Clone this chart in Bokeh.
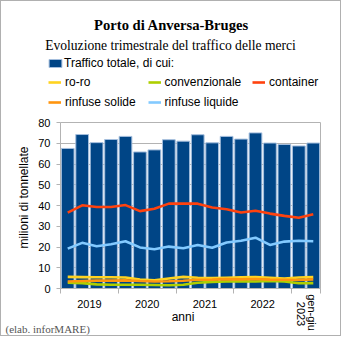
import math
from bokeh.plotting import figure
from bokeh.models import (ColumnDataSource, Range1d, FixedTicker, Legend, LegendItem,
                          LinearAxis, Label, Grid)
from bokeh.embed import file_html
from bokeh.resources import INLINE

# ---- data (milioni di tonnellate, trimestri 2019 Q1 .. 2023 Q2) ----
quarters = ["2019-1", "2019-2", "2019-3", "2019-4",
            "2020-1", "2020-2", "2020-3", "2020-4",
            "2021-1", "2021-2", "2021-3", "2021-4",
            "2022-1", "2022-2", "2022-3", "2022-4",
            "2023-1", "2023-2"]
totale = [67.5, 74.2, 70.3, 71.8, 73.3, 65.8, 66.8, 71.7, 71.0,
          74.1, 70.2, 73.3, 72.0, 75.0, 70.1, 69.4, 68.7, 70.1]
roro = [5.6, 5.5, 5.4, 5.4, 5.3, 4.3, 4.0, 4.8, 5.6,
        5.2, 5.0, 5.2, 5.4, 5.5, 5.2, 4.8, 5.3, 5.5]
convenzionale = [2.8, 2.6, 2.0, 1.8, 1.8, 1.8, 1.7, 1.6, 1.8,
                 2.8, 3.2, 3.4, 3.5, 3.4, 3.6, 3.4, 2.5, 2.6]
container = [36.6, 40.1, 39.3, 39.3, 40.2, 37.3, 38.4, 40.9, 41.0,
             40.9, 39.0, 38.2, 36.6, 37.5, 36.1, 35.0, 34.1, 35.8]
rinfuse_solide = [3.4, 3.6, 3.8, 3.8, 3.9, 3.6, 3.4, 3.5, 3.7,
                  4.2, 4.3, 4.5, 4.4, 4.6, 4.3, 4.2, 4.1, 4.4]
rinfuse_liquide = [19.2, 22.0, 20.4, 21.3, 22.8, 19.8, 18.9, 20.2, 19.4,
                   21.0, 19.6, 22.2, 23.0, 24.5, 21.0, 22.6, 23.0, 22.8]
y_ticks = [0, 10, 20, 30, 40, 50, 60, 70, 80]
year_ticks = [2, 6, 10, 14]
year_labels = ["2019", "2020", "2021", "2022"]
year_bounds = [0, 4, 8, 12, 16, 18]
last_tick = 17
last_label_lines = ["gen-giu", "2023"]

series_names = ["Traffico totale, di cui:", "ro-ro", "convenzionale", "container",
                "rinfuse solide", "rinfuse liquide"]
series_colors = ["#004586", "#ffd320", "#aecf00", "#ff420e", "#ff950e", "#83caff"]

GRAY = "#b3b3b3"
SANS = "Liberation Sans"
SERIF = "Liberation Serif"
LW = 2.6

# plot area in page pixels: x 60..320 (18 quarters), y 288..122 (0..80)
N_Q = len(quarters)
XS = 260 / N_Q
YS = 166 / 80


def dx(px):
    return (px - 60) / XS


def dy(py):
    return (288 - py) / YS


W, H = 341, 336  # + 1px border each side = 343 x 338
p = figure(width=W, height=H, output_backend="svg", toolbar_location=None,
           x_range=Range1d(dx(1), dx(342)), y_range=Range1d(dy(337), dy(1)),
           x_axis_type=None, y_axis_type=None,
           min_border_left=0, min_border_right=0, min_border_top=0, min_border_bottom=0)
p.title.visible = False
p.styles = {"border": "1px solid #b0b0b0"}
p.outline_line_color = None
p.background_fill_color = "white"
p.border_fill_color = "white"

# ---- axes (fixed at the plot-area edges) ----
yaxis = LinearAxis(ticker=FixedTicker(ticks=y_ticks), fixed_location=0, bounds=(0, 80),
                   axis_line_color=GRAY, major_tick_line_color=GRAY,
                   major_tick_out=4, major_tick_in=0, minor_tick_line_color=None,
                   major_label_standoff=6, major_label_text_font=SANS,
                   major_label_text_font_size="11px", major_label_text_color="black")
p.add_layout(yaxis, "left")

raxis = LinearAxis(ticker=FixedTicker(ticks=[]), fixed_location=N_Q, bounds=(0, 80),
                   axis_line_color=GRAY, major_tick_line_color=None,
                   minor_tick_line_color=None, major_label_text_alpha=0)
p.add_layout(raxis, "right")

xaxis = LinearAxis(ticker=FixedTicker(ticks=year_ticks, minor_ticks=year_bounds),
                   major_label_overrides={t: l for t, l in zip(year_ticks, year_labels)},
                   fixed_location=0, bounds=(0, N_Q), axis_line_color=GRAY,
                   major_tick_line_color=None, major_tick_out=0, major_tick_in=0,
                   minor_tick_line_color=GRAY, minor_tick_out=5, minor_tick_in=0,
                   major_label_standoff=6, major_label_text_font=SANS,
                   major_label_text_font_size="11px", major_label_text_color="black")
p.add_layout(xaxis, "below")

grid = Grid(dimension=1, ticker=FixedTicker(ticks=y_ticks), grid_line_color=GRAY)
try:
    grid.cross_bounds = (0, N_Q)
except Exception:
    pass
p.add_layout(grid)

# ---- data marks ----
xpos = [i + 0.5 for i in range(N_Q)]
src = ColumnDataSource(dict(x=xpos, totale=totale, roro=roro, conv=convenzionale,
                            cont=container, sol=rinfuse_solide, liq=rinfuse_liquide))
bars = p.vbar(x="x", top="totale", width=0.88, source=src,
              fill_color=series_colors[0], line_color="#a4bedd", line_width=1)
lines = [p.line("x", col, source=src, line_color=c, line_width=LW)
         for col, c in zip(["roro", "conv", "cont", "sol", "liq"], series_colors[1:])]

# ---- legend: one entry per Legend, placed in page pixels ----
leg_common = dict(padding=0, margin=0, spacing=0, label_text_font=SANS,
                  label_text_font_size="12px", label_text_color="black",
                  background_fill_alpha=0, border_line_alpha=0, label_height=16)
leg_pos = [(33, 63), (34, 82), (133.5, 82), (238, 82), (34, 102), (133.5, 102)]
LEG_DX = 14
for i, (name, r) in enumerate(zip(series_names, [bars] + lines)):
    gx, cy = leg_pos[i]
    if i == 0:
        gw, gh, so = 16, 10, 1
    else:
        gw, gh, so = 13, 16, 4
    leg = Legend(items=[LegendItem(label=name, renderers=[r])],
                 location=(gx - 1 + LEG_DX, 337 - (cy + 8)),
                 glyph_width=gw, glyph_height=gh, label_standoff=so, **leg_common)
    p.add_layout(leg, "center")

# ---- texts ----
p.add_layout(Label(x=dx(171), y=dy(24), text="Porto di Anversa-Bruges", text_font=SERIF,
                   text_font_style="bold", text_font_size="14.6px", text_align="center",
                   text_baseline="alphabetic", text_color="black"))
p.add_layout(Label(x=dx(170), y=dy(45), text="Evoluzione trimestrale del traffico delle merci",
                   text_font=SERIF, text_font_size="13.6px", text_align="center",
                   text_baseline="alphabetic", text_color="black"))
p.add_layout(Label(x=dx(23), y=dy(197), text="milioni di tonnellate", angle=math.pi / 2,
                   text_font=SANS, text_font_size="12px", text_align="center",
                   text_baseline="middle", text_color="black"))
p.add_layout(Label(x=dx(182.5), y=dy(316.5), text="anni", text_font=SANS,
                   text_font_size="12px", text_align="center", text_baseline="middle",
                   text_color="black"))
# rotated half-year label under the last year (two lines, first line on the right)
p.add_layout(Label(x=last_tick + dx(311) - dx(305.5), y=dy(312), text=last_label_lines[0],
                   angle=-math.pi / 2, text_font=SANS, text_font_size="11px",
                   text_align="center", text_baseline="middle", text_color="black"))
p.add_layout(Label(x=last_tick + dx(300) - dx(305.5), y=dy(313.5), text=last_label_lines[1],
                   angle=-math.pi / 2, text_font=SANS, text_font_size="11px",
                   text_align="center", text_baseline="middle", text_color="black"))
p.add_layout(Label(x=dx(5), y=dy(328), text="(elab. inforMARE)", text_font=SERIF,
                   text_font_size="11px", text_align="left", text_baseline="middle",
                   text_color="#555555"))

open("out.html", "w").write(file_html(p, INLINE))
